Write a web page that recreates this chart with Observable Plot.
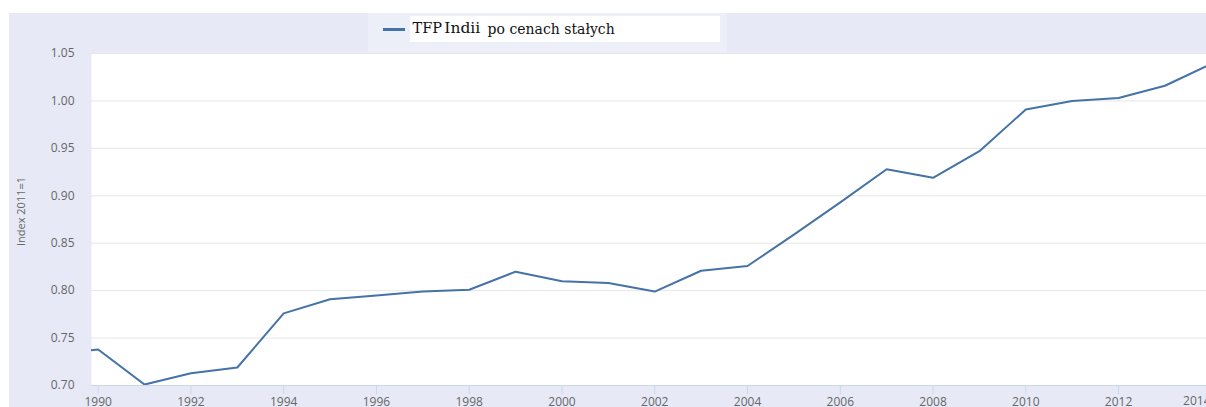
<!DOCTYPE html>
<html><head><meta charset="utf-8">
<script src="https://cdn.jsdelivr.net/npm/d3@7"></script>
<script src="https://cdn.jsdelivr.net/npm/@observablehq/plot@0.6"></script>
<style>
body{margin:0;background:#fff;}
#wrap{position:absolute;left:9px;top:13px;width:1197px;height:394px;background:#e7eaf6;overflow:hidden;}
#legend{position:absolute;left:359px;top:0;width:359px;height:40px;background:#eceef8;}
#legend .sym{position:absolute;left:15px;top:15px;width:22px;height:3px;background:#4572a7;}
#legend .box{position:absolute;left:42px;top:3px;width:310px;height:26px;background:#fff;font-family:"DejaVu Serif",serif;color:#111;white-space:nowrap;}
#legend .box span{position:absolute;line-height:1;}
</style></head>
<body>
<div id="wrap"><div id="chart"></div>
<div id="legend"><div class="sym"></div><div class="box">
<span style="left:2.6px;top:5.2px;font-size:14.5px;">TFP</span><span style="left:34.3px;top:4.6px;font-size:15.5px;">Indii</span><span style="left:77.6px;top:5.5px;font-size:14px;">po cenach stałych</span>
</div></div>
</div>
<script>
const years = [1989,1990,1991,1992,1993,1994,1995,1996,1997,1998,1999,2000,2001,2002,2003,2004,2005,2006,2007,2008,2009,2010,2011,2012,2013,2014];
const tfp = [0.733,0.738,0.701,0.713,0.719,0.776,0.791,0.795,0.799,0.801,0.820,0.810,0.808,0.799,0.821,0.826,0.859,0.893,0.928,0.919,0.947,0.991,1.000,1.003,1.016,1.039];
const xTicks = [1990,1992,1994,1996,1998,2000,2002,2004,2006,2008,2010,2012];
const lastTick = [2014];
const yTicks = [0.70,0.75,0.80,0.85,0.90,0.95,1.00,1.05];
const yTitle = "Index 2011=1";

const data = years.map((y, i) => ({year: y, v: tfp[i]}));

const chart = Plot.plot({
  width: 1197, height: 394,
  marginLeft: 82, marginRight: 0, marginTop: 40, marginBottom: 22,
  style: {background: "transparent", fontFamily: "'Open Sans', sans-serif", fontSize: "12px", color: "#666666"},
  x: {domain: [1989.856, 2013.896]},
  y: {domain: [0.70, 1.05]},
  marks: [
    Plot.frame({fill: "#ffffff", stroke: null}),
    Plot.gridY(yTicks.filter(v => v > 0.70), {stroke: "#e6e6e6", strokeOpacity: 1}),
    Plot.ruleY([0.70], {stroke: "#ccd6eb"}),
    Plot.axisY(yTicks, {tickSize: 0, tickPadding: 17, tickFormat: d => d.toFixed(2), fill: "#666666", label: null}),
    Plot.axisX(xTicks, {tickSize: 9, tickPadding: 3, stroke: "#ccd6eb", strokeOpacity: 1, fill: "#666666", tickFormat: d => String(d), label: null}),
    Plot.text(lastTick, {x: d => d, y: () => 0.70, dy: 16, dx: -14.5, text: d => String(d), fill: "#666666", fontSize: 12}),
    Plot.text([yTitle], {frameAnchor: "left", textAnchor: "middle", dx: -70.3, dy: -8, rotate: -90, fill: "#666666", fontSize: 11}),
    Plot.line(data, {x: "year", y: "v", stroke: "#4572a7", strokeWidth: 2, clip: true})
  ]
});
document.getElementById("chart").appendChild(chart);
</script>
</body></html>
